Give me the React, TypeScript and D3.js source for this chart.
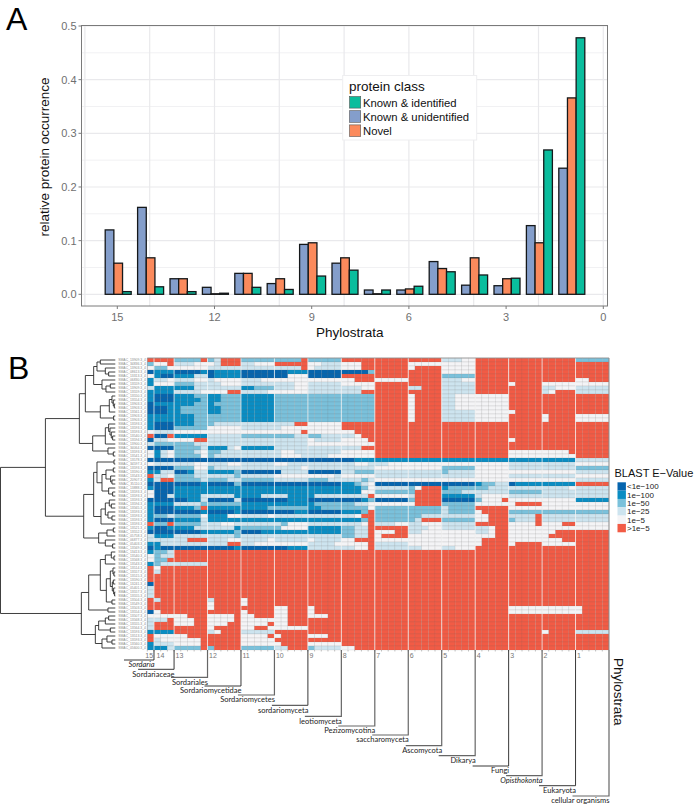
import React from "react";
import * as d3 from "d3";

// ---------- Panel A data ----------
const strataA = [15, 14, 13, 12, 11, 10, 9, 8, 7, 6, 5, 4, 3, 2, 1];
const unidentified = [0.12, 0.162, 0.029, 0.013, 0.039, 0.02, 0.093, 0.058, 0.008, 0.008, 0.061, 0.017, 0.016, 0.128, 0.235];
const novel = [0.058, 0.068, 0.029, 0.001, 0.039, 0.029, 0.096, 0.068, 0.001, 0.01, 0.048, 0.068, 0.029, 0.096, 0.366];
const identified = [0.005, 0.014, 0.005, 0.002, 0.013, 0.009, 0.034, 0.045, 0.008, 0.015, 0.042, 0.036, 0.03, 0.269, 0.478];
const xTicksA = [15, 12, 9, 6, 3, 0];
const xGridA = [16, 14, 12, 10, 8, 6, 4, 2, 0];
const yTicksA = [0, 0.1, 0.2, 0.3, 0.4, 0.5];
const yMinorA = [0.05, 0.15, 0.25, 0.35, 0.45];
const seriesNames = ["Known & unidentified", "Novel", "Known & identified"];
const legendOrder = ["Known & identified", "Known & unidentified", "Novel"];
const seriesColors: Record<string, string> = {
  "Known & identified": "#0abd9d",
  "Known & unidentified": "#849ecb",
  Novel: "#fb8a5c",
};

// ---------- Panel B data ----------
// groups: 15 | 14 | 13 | 12 | 11 | 10 | 9 | 8 | 7 | 6 | 5 | 4 | 3 | 2 | 1
// codes: 0 <1e-100, 1 1e-100, 2 1e-50, 3 1e-25, 4 1e-5, 5 >1e-5
const heatRows = [
  "5 555 22225 23555 22222 22225 22222 55555 55555 55555 33344 55555 55555 55555 22222",
  "2 445 33344 43555 33444 55555 44333 44455 55555 44444 44444 55555 55555 55555 55555",
  "4 224 44444 33333 33333 33335 43333 44455 55555 45555 44444 55555 55555 55555 55555",
  "0 111 00001 01111 00000 00111 00000 00002 55555 55555 44444 55555 55555 55555 55555",
  "4 100 11133 01111 00000 00444 00000 55555 55555 55555 22222 55555 55555 55555 55555",
  "1 334 33344 34444 33344 44444 44444 44555 44444 55555 33344 55555 55555 55555 44555",
  "1 444 22233 33444 33333 33344 33333 44444 55555 55555 33333 55555 45555 44444 44444",
  "3 111 11133 33333 11222 33344 33333 33344 55555 33555 33333 55555 55555 33444 33333",
  "1 111 33334 44455 33334 44444 33333 33355 55555 55555 33333 55555 55555 34555 33333",
  "1 000 11122 11222 11111 22222 22222 22222 55555 45555 33444 44444 55555 55555 55555",
  "1 000 11112 11222 11111 22222 22222 22222 55555 45555 33444 44444 55555 55555 55555",
  "0 111 11122 12222 11111 22222 22222 22222 55555 45555 33444 44444 55555 55555 55555",
  "0 001 12222 11222 11111 22222 22222 22222 55555 45555 33444 44444 55555 55555 55555",
  "0 001 12222 11222 11111 22222 22222 22222 55555 45555 33333 44444 45555 55555 55555",
  "1 111 11122 22222 11111 22222 22222 22222 55555 45555 33333 44444 55555 45555 44444",
  "1 111 11122 22222 11111 22222 22222 22222 55555 45555 33333 44444 55555 45555 44444",
  "1 000 11122 23333 33333 33355 44444 55555 55555 55555 55555 55555 55555 55555 55555",
  "1 000 22222 44444 33333 34444 44444 55555 55555 55555 55555 55555 55555 55555 55555",
  "4 333 44444 44444 44444 44445 44444 44555 55555 55555 55555 55555 55555 55555 55555",
  "5 005 11111 33333 22222 22233 22333 33455 55555 55555 55555 55555 55555 55555 55555",
  "0 334 44455 33333 33333 33333 43333 44445 55555 55555 55555 55555 45555 55555 55555",
  "3 222 22233 33333 33333 33333 44444 44444 55555 55555 55555 55555 55555 55555 55555",
  "0 000 22223 11134 11111 33333 33333 33355 55555 55555 55555 55555 55555 55555 55555",
  "4 134 22234 22333 33333 34433 33333 44444 55555 55555 55555 55555 44444 44445 55555",
  "4 134 22224 23333 33333 34443 33344 44444 55555 55555 55555 55555 44444 44444 55555",
  "0 000 00000 00000 00000 00000 00000 00111 11111 11111 11111 11111 11111 11111 33333",
  "4 333 33344 33344 33333 44333 33333 33443 33444 44444 44444 44444 33333 33333 44444",
  "0 000 22244 23333 33333 33334 33333 33333 44444 44444 22222 44444 33333 33333 22222",
  "1 133 00133 11112 00000 03333 00000 33222 33333 33333 23333 44444 44444 44444 33333",
  "5 334 22233 33332 33333 44444 44443 44444 33333 33333 33333 44444 33333 33333 44444",
  "1 355 22223 22233 22222 33333 22233 33323 44444 44444 44444 44444 44444 44444 33333",
  "0 000 00001 00002 00000 00000 00000 11234 00000 00000 00000 12233 01111 11111 55555",
  "1 000 11111 11111 11111 11111 11111 11124 33333 24555 12222 22333 33333 33334 33333",
  "4 000 11111 11111 11111 11111 11111 11144 22222 25555 22233 33333 22222 33333 33333",
  "4 003 11113 33331 11133 33111 13333 33335 44444 35555 11111 34444 33333 33333 33333",
  "0 000 00113 00003 00000 00111 00000 00012 00000 25555 00000 24445 44444 44444 11111",
  "1 111 33332 22222 11111 11111 12222 22334 44444 45555 22222 44444 45555 44444 44444",
  "1 000 11125 11111 11112 22222 11222 22224 22222 22222 32222 55555 44444 44444 44444",
  "1 000 00001 00001 00000 00011 00000 11125 22222 22222 32222 45555 22222 22222 22222",
  "1 223 22224 11144 33334 33333 33333 33455 22222 22333 33333 44555 33335 33333 33333",
  "1 000 11113 11111 11111 11111 11111 11125 22222 23555 22222 44555 23335 33333 33333",
  "5 225 22223 33443 33333 32444 33333 33345 33344 33444 33333 55555 44445 44455 44444",
  "1 001 11133 33331 22222 24444 11111 22335 55555 33344 33333 33455 44444 44444 44444",
  "0 000 00001 11112 00011 11111 11111 22335 44455 33444 44444 33455 44444 44555 55555",
  "3 111 33333 33332 33333 33333 33333 22335 45555 44444 44444 44455 44444 45555 55555",
  "3 333 33555 33344 33334 33333 43333 44555 44444 44444 44444 45555 44444 44455 55555",
  "1 133 33333 33355 33444 44444 33334 44445 33333 44444 44444 45555 45555 44444 55555",
  "0 100 00000 00001 00000 00111 33333 33445 33333 33444 33444 55555 55555 55555 55555",
  "1 223 55555 55555 55555 55555 55555 55555 55555 55555 55555 55555 55555 55555 55555",
  "4 233 55555 55555 55555 55555 55555 55555 55555 55555 55555 55555 55555 55555 55555",
  "4 225 55555 55555 55555 55555 55555 55555 55555 55555 55555 55555 55555 55555 55555",
  "1 233 33333 55555 55555 55555 55555 55555 55555 55555 55555 55555 55555 55555 55555",
  "5 455 55555 55555 55555 55555 55555 55555 55555 55555 55555 55555 55555 55555 55555",
  "5 355 55555 55555 55555 55555 55555 55555 55555 55555 55555 55555 55555 55555 55555",
  "5 555 55555 55555 55555 55555 55555 55555 55555 55555 55555 55555 55555 55555 55555",
  "5 555 55555 55555 55555 55555 55555 55555 55555 55555 55555 55555 55555 55555 55555",
  "0 555 55555 55555 55555 55555 55555 55555 55555 55555 55555 55555 55555 55555 55555",
  "3 555 55555 55555 55555 55555 55555 55555 55555 55555 55555 55555 55555 55555 55555",
  "3 555 55555 55555 55555 55555 55555 55555 55555 55555 55555 55555 55555 55555 55555",
  "3 555 55555 55555 55555 55555 55555 55555 55555 55555 55555 55555 55555 55555 55555",
  "5 355 55555 35555 45555 55555 55555 55555 55555 55555 55555 55555 55555 55555 55555",
  "5 555 55555 45555 45555 55555 55555 55555 55555 55555 55555 55555 55555 55555 55555",
  "5 555 55555 45555 55555 44555 45555 55555 55555 55555 55555 55555 44444 44444 45555",
  "0 455 55555 55555 45555 44555 45555 55555 55555 55555 55555 55555 44444 44444 45555",
  "4 444 44555 44445 44555 44555 44455 55555 55555 55555 55555 55555 55555 55555 55555",
  "3 335 44455 44445 44444 44555 55555 55555 55555 55555 55555 55555 55555 55555 55555",
  "3 555 44455 44455 44445 44555 55555 55555 55555 55555 55555 55555 55555 55555 55555",
  "3 555 55555 45555 44554 44444 55555 55555 55555 55555 55555 55555 55555 55555 55555",
  "1 111 55555 34555 33333 55555 55555 55555 55555 55555 55555 55555 55555 45555 33333",
  "5 444 44555 55555 44445 45555 44455 55555 55555 55555 55555 55555 55555 55555 55555",
  "5 344 44445 55555 44444 55555 55555 55555 55555 55555 55555 55555 55555 55555 55555",
  "1 333 44445 55555 44444 45555 44444 55555 55555 55555 55555 55555 55555 55555 55555",
  "1 113 22225 25555 22222 33555 23333 44555 55555 55555 55555 55555 55555 55555 55555",
];
const strataB = [15, 14, 13, 12, 11, 10, 9, 8, 7, 6, 5, 4, 3, 2, 1];
const strataSizes = [1, 3, 5, 5, 5, 5, 5, 5, 5, 5, 5, 5, 5, 5, 5];
const blastLabels = ["<1e\u2212100", "1e\u2212100", "1e\u221250", "1e\u221225", "1e\u22125", ">1e\u22125"];
const blastColors = ["#0665ae", "#0a8dc3", "#7ac1db", "#cde4ef", "#f4f4f6", "#f25b45"];
const taxa = [
  "Sordaria", "Sordariaceae", "Sordariales", "Sordariomycetidae", "Sordariomycetes", "sordariomyceta",
  "leotiomyceta", "Pezizomycotina", "saccharomyceta", "Ascomycota", "Dikarya", "Fungi", "Opisthokonta",
  "Eukaryota", "cellular organisms",
];
const italicTaxa = ["Sordaria", "Opisthokonta"];
const taxaDepth = [10, 19.3, 27.3, 36, 45, 55.3, 66.3, 76, 85, 95.7, 105.7, 116, 125.7, 135.7, 146];
const taxaSpan = [30, 36, 36.5, 36.5, 36.5, 36, 36.5, 36.5, 36, 36, 36.5, 36, 36, 36.5, 36.5];
const taxaDark = [1, 1, 0, 1, 0, 1, 0, 0, 0, 0, 0, 1, 0, 1, 0];
const leafIds = [
  "13909", "34836", "13903", "08613", "13313", "06830", "13559", "13909", "13559", "13550", "13554", "13903", "13903", "13561",
  "13903", "13903", "13593", "13593", "13593", "13540", "13594", "13900", "34064", "13593", "13541", "13578", "34597", "13593",
  "13590", "13543", "20907", "35110", "13888", "13593", "13593", "13593", "13594", "13565", "13593", "13593", "13593", "13593",
  "13521", "13552", "05758", "06877", "05403", "13569", "13413", "13540", "13568", "13543", "13514", "13557", "13515", "13590",
  "13241", "05401", "13557", "13555", "13504", "13549", "13503", "13554", "13507", "13568", "13555", "13564", "13593", "13513",
  "13593", "13560", "05600",
];
// merge tree of the row dendrogram: [height, child, child], 0 is a leaf
type Tree = number | Tree[];
const dendroTree: Tree = [345,
  [210,
    [108,
      [90,
        [65, [55, [45, 0, 0], [30, 0, [20, 0, 0]]], [40, 0, [28, [15, 0, 0], 0]]],
        [45, [18, [10, 0, [6, 0, [3, 0, 0]]], 0], [5, 0, 0]]],
      [68, [30, [20, 0, [16, 0, [12, 0, [8, 0, 0]]]], 0], [22, 0, [6, 0, 0]]]],
    [95,
      [65,
        [55, [4, 0, 0], [40, [28, [6, 0, 0], [14, 0, [10, 0, 0]]], [20, 0, [8, 0, 0]]]],
        [43, [30, [18, 0, [12, 0, 0]], [22, 0, [10, 0, 0]]], 0]],
      [50, [25, [6, 0, 0], 0], [30, 0, [8, 0, 0]]]]],
  [102,
    [80,
      [45,
        [30, [12, 0, [4, 0, 0]], 0],
        [27, [15, [7, 0, [4, 0, 0]], [9, [6, 0, 0], [5, 0, [2, 0, 0]]]], [10, 0, 0]]],
      [22, 0, 0]],
    [60,
      [50, [30, [20, 0, 0], 0], [15, 0, 0]],
      [40, [25, 0, [10, 0, 0]], 0]]]];

const sans = "'Liberation Sans', Arial, sans-serif";
const taxaFont = "Lato, 'Open Sans', sans-serif";

function PanelA() {
  const x = d3.scaleLinear([0, 15], [603.3, 117.3]);
  const y = d3.scaleLinear([0, 0.5], [294.3, 26]);
  const group = d3.scaleBand(seriesNames, [-13, 13]).padding(0);
  const values = [unidentified, novel, identified];
  return (
    <g fontFamily={sans}>
      <rect x={81.5} y={25.5} width={526} height={280.5} fill="#fff" />
      {yMinorA.map((v) => <line key={v} x1={81.5} x2={607.5} y1={y(v)} y2={y(v)} stroke="#f1f1f3" strokeWidth={1} />)}
      {yTicksA.map((v) => <line key={v} x1={81.5} x2={607.5} y1={y(v)} y2={y(v)} stroke="#e9e9ec" strokeWidth={1.2} />)}
      {xGridA.map((v) => <line key={v} x1={x(v)} x2={x(v)} y1={25.5} y2={306} stroke="#e9e9ec" strokeWidth={1.2} />)}
      {strataA.map((s, i) =>
        seriesNames.map((name, k) => {
          const top = y(values[k][i]);
          return (
            <rect key={name + s} x={x(s) + 0.9 + (group(name) as number)} y={top}
              width={group.bandwidth()} height={y(0) - top}
              fill={seriesColors[name]} stroke="#15181a" strokeWidth={1.3} />
          );
        }))}
      <rect x={81.5} y={25.5} width={526} height={280.5} fill="none" stroke="#7a7a7a" strokeWidth={1} />
      {yTicksA.map((v) => (
        <g key={v}>
          <line x1={78.5} x2={81.5} y1={y(v)} y2={y(v)} stroke="#7a7a7a" />
          <text x={76.5} y={y(v) + 4} textAnchor="end" fontSize={11} fill="#6f6f6f">{v.toFixed(1)}</text>
        </g>
      ))}
      {xTicksA.map((v) => (
        <g key={v}>
          <line x1={x(v)} x2={x(v)} y1={306} y2={309} stroke="#7a7a7a" />
          <text x={x(v)} y={321} textAnchor="middle" fontSize={11} fill="#6f6f6f">{v}</text>
        </g>
      ))}
      <text x={349.7} y={336.5} textAnchor="middle" fontSize={13.5} fill="#111">Phylostrata</text>
      <text transform="translate(49,157) rotate(-90)" textAnchor="middle" fontSize={13.5} fill="#111">relative protein occurrence</text>
      <rect x={342.7} y={75.5} width={134} height={64.5} fill="#fff" stroke="#eeeef0" strokeWidth={1} />
      <text x={349} y={91} fontSize={13.5} fill="#111">protein class</text>
      {legendOrder.map((name, i) => (
        <g key={name}>
          <rect x={349.5} y={96.5 + i * 14.2} width={11.2} height={11.6} fill={seriesColors[name]} stroke="#555" strokeWidth={0.6} />
          <text x={363} y={106.6 + i * 14.4} fontSize={11.3} fill="#111">{name}</text>
        </g>
      ))}
      <text x={6} y={30} fontSize={32} fill="#000">A</text>
    </g>
  );
}

function PanelB() {
  const rows = heatRows.map((r) => r.replace(/ /g, ""));
  const nCols = d3.sum(strataSizes);
  const xB = d3.scaleBand(d3.range(nCols), [147.3, 609]);
  const yB = d3.scaleBand(d3.range(rows.length), [358, 650]);
  const starts = [0, ...d3.cumsum(strataSizes)];
  const edge = (i: number) => (i >= nCols ? 609 : (xB(i) as number));

  const root = d3.hierarchy<Tree>(dendroTree, (d) => (Array.isArray(d) ? (d.slice(1) as Tree[]) : null));
  const dx = d3.scaleLinear([0, 345], [115.3, 0.5]);
  const pos = new Map<any, number>();
  let leafIndex = 0;
  root.eachAfter((n) => {
    if (!n.children) {
      pos.set(n, (yB(leafIndex) as number) + yB.bandwidth() / 2);
      leafIndex += 1;
    } else {
      pos.set(n, (pos.get(n.children[0])! + pos.get(n.children[n.children.length - 1])!) / 2);
    }
  });
  const segs: string[] = [];
  root.each((n) => {
    if (!n.children) return;
    const h = dx((n.data as Tree[])[0] as number);
    const p = d3.path();
    p.moveTo(h, pos.get(n.children[0])!);
    p.lineTo(h, pos.get(n.children[n.children.length - 1])!);
    n.children.forEach((c) => {
      const cx = c.children ? dx((c.data as Tree[])[0] as number) : 115.3;
      p.moveTo(h, pos.get(c)!);
      p.lineTo(cx, pos.get(c)!);
    });
    segs.push(p.toString());
  });

  return (
    <g fontFamily={sans}>
      <text x={8} y={379} fontSize={32} fill="#000">B</text>
      <path d={segs.join("")} fill="none" stroke="#2a2a2a" strokeWidth={0.9} />
      {leafIds.map((id, i) => (
        <text key={i} x={146} y={(yB(i) as number) + 3.2} fontSize={3.4} textAnchor="end" fill="#8a8a8a">{`SMAC_${id}.3_4`}</text>
      ))}
      {rows.map((row, r) =>
        row.split("").map((c, k) => (
          <rect key={r + "-" + k} x={xB(k)} y={yB(r)} width={xB.bandwidth()} height={yB.bandwidth()}
            fill={blastColors[+c]} stroke="#6a6a6a" strokeOpacity={0.22} strokeWidth={0.5} />
        )))}
      {starts.slice(1, -1).map((s) => (
        <line key={s} x1={edge(s)} x2={edge(s)} y1={358} y2={650} stroke="#fff" strokeOpacity={0.7} strokeWidth={1} />
      ))}
      <line x1={147.3} x2={609} y1={358} y2={358} stroke="#8f8f8f" strokeWidth={0.8} />
      <line x1={609} x2={609} y1={358} y2={650} stroke="#8f8f8f" strokeWidth={1} />
      <line x1={147.3} x2={147.3} y1={358} y2={650} stroke="#8f8f8f" strokeWidth={0.5} />
      {d3.range(nCols).map((k) => (
        <line key={k} x1={xB(k)} x2={xB(k)} y1={650} y2={651.5} stroke="#888" strokeWidth={0.5} />
      ))}
      {strataB.map((s, i) => (
        <text key={s} x={edge(starts[i]) + (i === 0 ? -2 : i === 1 ? 2.5 : 1.5)} y={658} fontSize={7} fill="#777">{s}</text>
      ))}
      {taxa.map((t, i) => {
        const xe = edge(starts[i + 1]);
        const yd = 650 + taxaDepth[i];
        return (
          <g key={t}>
            <path d={`M${xe},650V${yd}H${xe - taxaSpan[i]}`} fill="none" stroke={taxaDark[i] ? "#222" : "#666"} strokeWidth={taxaDark[i] ? 0.9 : 1.2} />
            <text x={xe + 0.5} y={yd + 7.4} textAnchor="end" fontFamily={taxaFont} fontSize={7.5} fontStyle={italicTaxa.includes(t) ? "italic" : "normal"} fill="#222">{t}</text>
          </g>
        );
      })}
      <text transform="translate(613.5,658) rotate(90)" fontSize={13.5} fill="#111">Phylostrata</text>
      <text x={614.5} y={477} fontSize={11} fill="#111">BLAST E{"\u2212"}Value</text>
      {blastLabels.map((l, i) => (
        <g key={l}>
          <rect x={617.5} y={482.3 + i * 8.33} width={8.4} height={8.33} fill={blastColors[i]} />
          <text x={627} y={489.3 + i * 8.33} fontSize={8} fill="#222">{l}</text>
        </g>
      ))}
    </g>
  );
}

export default function App() {
  return (
    <svg width={697} height={805} style={{ position: "absolute", left: 0, top: 0, background: "#fff" }}>
      <PanelA />
      <PanelB />
    </svg>
  );
}
